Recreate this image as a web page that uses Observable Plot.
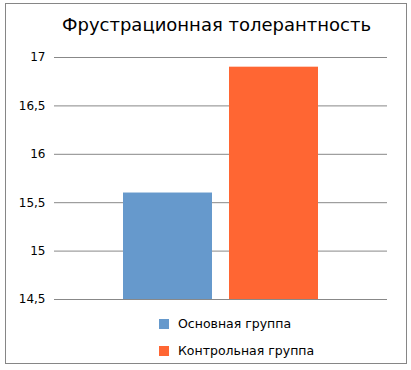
<!DOCTYPE html>
<html><head><meta charset="utf-8">
<script src="https://cdn.jsdelivr.net/npm/d3@7"></script>
<script src="https://cdn.jsdelivr.net/npm/@observablehq/plot@0.6"></script>
<style>
body{margin:0;background:#fff;font-family:"DejaVu Sans",Verdana,sans-serif;}
#frame{position:absolute;left:5px;top:3px;width:400px;height:359px;border:1px solid #868686;}
#title{position:absolute;left:0;top:14px;width:433px;text-align:center;font-size:18px;color:#000;}
#chart{position:absolute;left:0;top:40px;}
.leg{position:absolute;left:159px;font-size:12.5px;color:#000;display:flex;align-items:center;}
.sw{width:10px;height:10px;margin-right:9px;display:inline-block;}
</style></head>
<body>
<div id="frame"></div>
<div id="title">Фрустрационная толерантность</div>
<div id="chart"></div>
<div id="legend"></div>
<script>
const groups = ["Основная группа", "Контрольная группа"];
const values = [15.6, 16.9];
const colors = ["#6699CC", "#FF6633"];
const yTicks = [14.5, 15, 15.5, 16, 16.5, 17];

const data = groups.map((g, i) => ({group: g, value: values[i]}));

const plot = Plot.plot({
  width: 411,
  height: 270,
  marginLeft: 54,
  marginRight: 24,
  marginTop: 17,
  marginBottom: 11,
  style: {fontFamily: "DejaVu Sans, Verdana, sans-serif", fontSize: "12px", background: "transparent"},
  x: {domain: groups, axis: null, paddingInner: 0.16, paddingOuter: 0.65},
  y: {domain: [yTicks[0], yTicks[yTicks.length - 1]], clamp: true, ticks: yTicks, tickSize: 0, tickPadding: 9,
      tickFormat: d => String(d).replace(".", ","), label: null},
  color: {domain: groups, range: colors},
  marks: [
    Plot.ruleY(yTicks, {stroke: "#888888", strokeWidth: 1}),
    Plot.barY(data, {x: "group", y: "value", fill: "group"})
  ]
});
document.getElementById("chart").appendChild(plot);

const legend = document.getElementById("legend");
const legTops = [316, 343];
groups.forEach((g, i) => {
  const d = document.createElement("div");
  d.className = "leg";
  d.style.top = legTops[i] + "px";
  d.innerHTML = `<span class="sw" style="background:${colors[i]}"></span><span>${g}</span>`;
  legend.appendChild(d);
});
</script>
</body></html>
